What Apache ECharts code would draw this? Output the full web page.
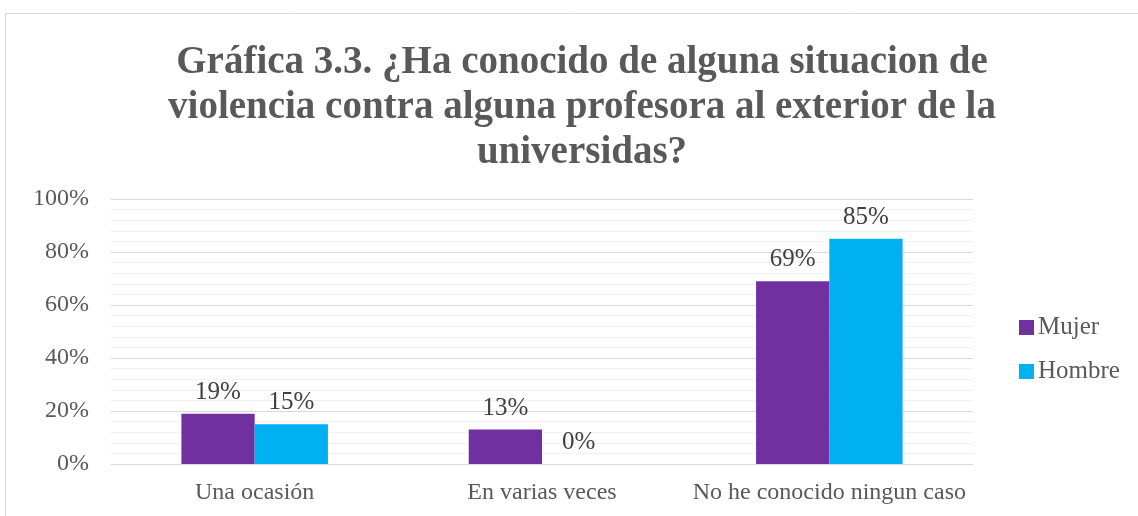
<!DOCTYPE html>
<html>
<head>
<meta charset="utf-8">
<script src="https://cdn.jsdelivr.net/npm/echarts@6/dist/echarts.min.js"></script>
<style>
html,body{margin:0;padding:0;background:#fff;}
#main{width:1138px;height:516px;}
</style>
</head>
<body>
<div id="main"></div>
<script>
// datos de la grafica
var categorias = ['Una ocasión', 'En varias veces', 'No he conocido ningun caso'];
var mujer = [19, 13, 69];
var hombre = [15, 0, 85];
var ticksY = [0, 20, 40, 60, 80, 100];

var fuente = '"Liberation Serif", "DejaVu Serif", serif';

var myChart = echarts.init(document.getElementById('main'));

function etiqueta(){
	return {
		show: true,
		position: 'top',
		distance: 9,
		formatter: '{c}%',
		fontFamily: fuente,
		fontSize: 25,
		color: '#404040'
	};
}

var option = {
	backgroundColor: '#fff',
	animation: false,
	title: {
		text: 'Gráfica 3.3. ¿Ha conocido de alguna situacion de\nviolencia contra alguna profesora al exterior de la\nuniversidas?',
		left: 577,
		top: 35,
		textAlign: 'center',
		textStyle: {
			fontFamily: fuente,
			fontWeight: 'bold',
			fontSize: 39,
			lineHeight: 45,
			color: '#595959'
		}
	},
	graphic: [{
		type: 'rect',
		shape: {x: 5.5, y: 13.5, width: 1200, height: 600},
		style: {fill: 'none', stroke: '#d9d9d9', lineWidth: 1},
		silent: true,
		z: -1
	}],
	legend: {
		orient: 'vertical',
		left: 1014,
		top: 310,
		itemWidth: 15,
		itemHeight: 15,
		itemGap: 19,
		icon: 'rect',
		data: ['Mujer', 'Hombre'],
		textStyle: {
			fontFamily: fuente,
			fontSize: 25,
			color: '#595959',
			padding: [0, 0, 0, -1]
		}
	},
	grid: {
		left: 111,
		right: 165,
		top: 199,
		bottom: 52,
		containLabel: false
	},
	xAxis: {
		type: 'category',
		data: categorias,
		axisLine: {show: true, lineStyle: {color: '#d9d9d9', width: 1}},
		axisTick: {show: false},
		axisLabel: {
			interval: 0,
			hideOverlap: false,
			fontFamily: fuente,
			fontSize: 24,
			color: '#595959',
			margin: 17
		}
	},
	yAxis: {
		type: 'value',
		min: ticksY[0],
		max: ticksY[ticksY.length - 1],
		interval: 20,
		axisLine: {show: false},
		axisTick: {show: false},
		axisLabel: {
			fontFamily: fuente,
			fontSize: 24,
			color: '#595959',
			margin: 22,
			formatter: '{value}%'
		},
		splitLine: {show: true, lineStyle: {color: '#d9d9d9', width: 1}},
		minorTick: {show: false, splitNumber: 5},
		minorSplitLine: {show: true, lineStyle: {color: '#f0f0f0', width: 1}}
	},
	series: [
		{
			name: 'Mujer',
			type: 'bar',
			data: mujer,
			barGap: '0%',
			barCategoryGap: '49%',
			itemStyle: {color: '#7030a0'},
			label: etiqueta()
		},
		{
			name: 'Hombre',
			type: 'bar',
			data: hombre,
			itemStyle: {color: '#00b0f0'},
			label: etiqueta()
		}
	]
};
myChart.setOption(option);
</script>
</body>
</html>
